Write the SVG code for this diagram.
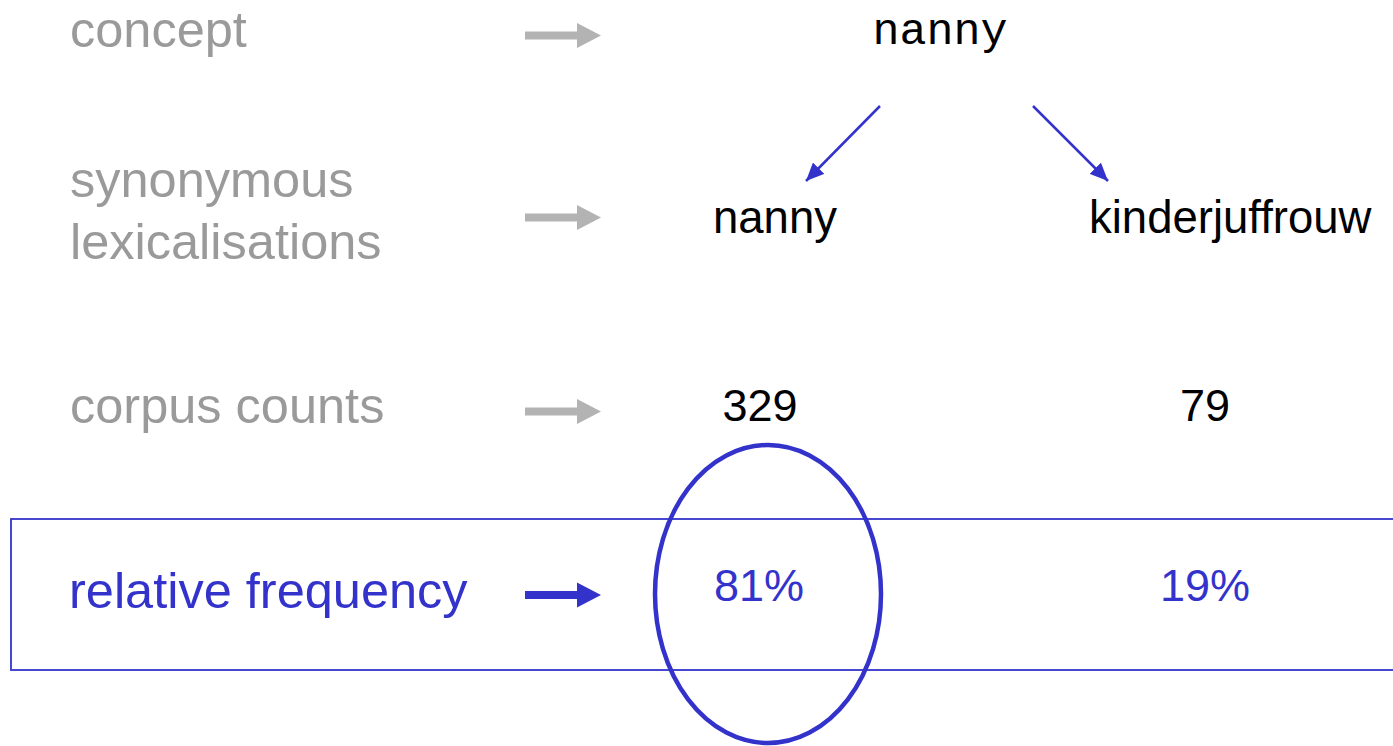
<svg xmlns="http://www.w3.org/2000/svg" width="1393" height="746" viewBox="0 0 1393 746">
  <style>
    .label { font-family: "Liberation Sans", Arial, sans-serif; font-size: 50.5px; fill: #9a9a9a; }
    .label.active { fill: #3333cc; }
    .word { font-family: "Liberation Sans", Arial, sans-serif; font-size: 45.5px; fill: #000000; }
    .num { font-family: "Liberation Sans", Arial, sans-serif; font-size: 45px; fill: #000000; }
    .pct { font-family: "Liberation Sans", Arial, sans-serif; font-size: 45px; fill: #3333cc; }
    .mono { font-family: "Liberation Mono", "Courier New", monospace; font-size: 45px; fill: #000000; }
    .step { fill: #b3b3b3; }
    .step.active { fill: #3333cc; }
    .link { stroke: #3333cc; stroke-width: 2.5; fill: none; }
  </style>
  <defs>
    <marker id="head" markerUnits="userSpaceOnUse" markerWidth="20" markerHeight="16" refX="18" refY="8" orient="auto">
      <path d="M0,0 L18,8 L0,16 Z" fill="#3333cc"/>
    </marker>
    <!-- block arrow pointing right, centred on y=0 -->
    <path id="blockArrow" d="M525,-4 L577,-4 L577,-12.5 L601,0 L577,12.5 L577,4 L525,4 Z"/>
  </defs>

  <!-- highlighted row frame (runs off the right edge) -->
  <rect id="row-frame" x="11" y="519" width="1400" height="151" fill="none" stroke="#3333cc" stroke-width="1.8"/>

  <!-- row labels -->
  <g id="label-concept">
    <text class="label" x="70" y="47">concept</text>
  </g>
  <g id="label-synonyms">
    <text class="label" x="70" y="197">synonymous</text>
    <text class="label" x="70" y="259">lexicalisations</text>
  </g>
  <g id="label-counts">
    <text class="label" x="70" y="423">corpus counts</text>
  </g>
  <g id="label-frequency">
    <text class="label active" x="69" y="608">relative frequency</text>
  </g>

  <!-- row arrows -->
  <g id="row-arrows">
    <use href="#blockArrow" class="step" transform="translate(0,35.5)"/>
    <use href="#blockArrow" class="step" transform="translate(0,217.5)"/>
    <use href="#blockArrow" class="step" transform="translate(0,411.5)"/>
    <use href="#blockArrow" class="step active" transform="translate(0,595)"/>
  </g>

  <!-- concept -->
  <g id="concept-nanny">
    <text class="mono" x="940" y="43.5" text-anchor="middle">nanny</text>
  </g>

  <!-- lexicalisations -->
  <g id="lex-nanny">
    <text class="word" x="713" y="233">nanny</text>
  </g>
  <g id="lex-kinderjuffrouw">
    <text class="word" x="1089" y="233">kinderjuffrouw</text>
  </g>

  <!-- counts -->
  <g id="count-nanny">
    <text class="num" x="760" y="421" text-anchor="middle">329</text>
  </g>
  <g id="count-kinderjuffrouw">
    <text class="num" x="1205" y="421" text-anchor="middle">79</text>
  </g>

  <!-- relative frequencies -->
  <g id="freq-nanny">
    <text class="pct" x="759" y="601" text-anchor="middle">81%</text>
  </g>
  <g id="freq-kinderjuffrouw">
    <text class="pct" x="1205" y="601" text-anchor="middle">19%</text>
  </g>

  <!-- emphasis ring around the dominant share -->
  <ellipse id="highlight" cx="768" cy="594" rx="113" ry="149" fill="none" stroke="#3333cc" stroke-width="4.5"/>

  <!-- concept to lexicalisation connectors -->
  <g id="connectors">
    <line class="link" x1="880" y1="106" x2="806" y2="181" marker-end="url(#head)"/>
    <line class="link" x1="1033" y1="106" x2="1108" y2="181" marker-end="url(#head)"/>
  </g>
</svg>
